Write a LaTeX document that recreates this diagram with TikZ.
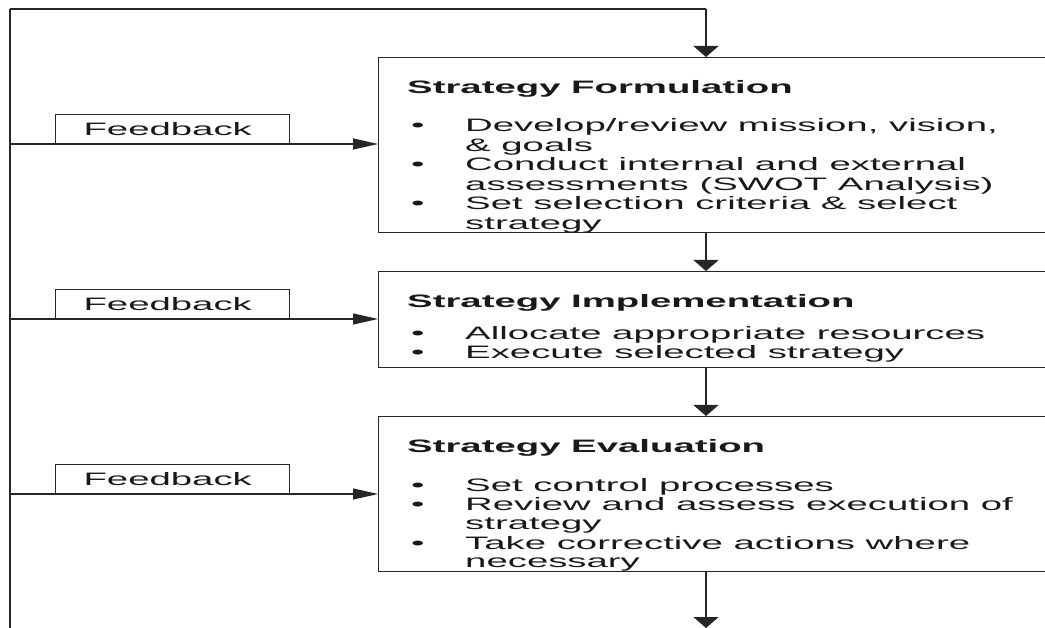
\documentclass[tikz,border=0pt]{standalone}
\usepackage{fontspec}
\setmainfont{Liberation Sans}[FakeStretch=2.13]
\usetikzlibrary{arrows.meta}
\begin{document}
\begin{tikzpicture}[x=1pt,y=-1pt,
  mainbox/.style={draw=black!85, line width=1.3pt, anchor=north west, inner sep=0pt, minimum width=720pt},
  fbbox/.style={draw=black!85, line width=1.1pt, anchor=south west, inner xsep=28pt, inner ysep=0pt,
    text width=178pt, align=left, minimum height=29pt, font=\fontsize{18}{19.5}\selectfont, text=black!90},
  txt/.style={anchor=base west, inner sep=0pt, font=\fontsize{18}{19.5}\selectfont, text=black!90},
  ttl/.style={anchor=base west, inner sep=0pt, font=\fontsize{18}{19.5}\selectfont\bfseries, text=black!90},
  vline/.style={draw=black!85, line width=2pt},
  hline/.style={draw=black!85, line width=1.1pt},
  varrow/.style={vline, -{Triangle[length=11pt,width=25pt]}},
  harrow/.style={hline, -{Triangle[length=25pt,width=11pt]}},
]
\clip (0,0) rectangle (1045,628);

% main boxes
\node[mainbox, minimum height=175pt] (b1) at (378,57) {};
\node[mainbox, minimum height=96pt] (b2) at (378,271) {};
\node[mainbox, minimum height=155pt] (b3) at (378,416) {};

% feedback boxes
\node[fbbox] (f1) at (55,144) {Feedback};
\node[fbbox] (f2) at (55,319) {Feedback};
\node[fbbox] (f3) at (55,494) {Feedback};

% coordinates
\coordinate (lt) at (10,9);
\coordinate (lb) at (10,632);
\coordinate (tm) at (706,9);
\coordinate (bm) at (706,628);
\coordinate (l1) at (10,144);
\coordinate (l2) at (10,319);
\coordinate (l3) at (10,494);

% connectors
\draw[vline] (lb) -- (lt);
\draw[hline] (lt) -- (tm);
\draw[varrow] (tm) -- (tm |- b1.north);
\draw[varrow] (b1.south -| tm) -- (b2.north -| tm);
\draw[varrow] (b2.south -| tm) -- (b3.north -| tm);
\draw[varrow] (b3.south -| tm) -- (bm);
\draw[harrow] (l1) -- (l1 -| b1.west);
\draw[harrow] (l2) -- (l2 -| b2.west);
\draw[harrow] (l3) -- (l3 -| b3.west);

% box 1 text
\node[ttl] (t1) at (407,94) {Strategy Formulation};
\node[txt] (d1a) at (411,132) {\textbullet};
\node[txt] (s1a) at (465,132) {Develop/review mission, vision,};
\node[txt] (s1b) at (465,151.5) {\& goals};
\node[txt] (d1c) at (411,171) {\textbullet};
\node[txt] (s1c) at (465,171) {Conduct internal and external};
\node[txt] (s1d) at (465,190.5) {assessments (SWOT Analysis)};
\node[txt] (d1e) at (411,210) {\textbullet};
\node[txt] (s1e) at (465,210) {Set selection criteria \& select};
\node[txt] (s1f) at (465,229.5) {strategy};

% box 2 text
\node[ttl] (t2) at (407,308) {Strategy Implementation};
\node[txt] (d2a) at (411,340) {\textbullet};
\node[txt] (s2a) at (465,340) {Allocate appropriate resources};
\node[txt] (d2b) at (411,359) {\textbullet};
\node[txt] (s2b) at (465,359) {Execute selected strategy};

% box 3 text
\node[ttl] (t3) at (407,453) {Strategy Evaluation};
\node[txt] (d3a) at (411,491) {\textbullet};
\node[txt] (s3a) at (465,491) {Set control processes};
\node[txt] (d3b) at (411,510) {\textbullet};
\node[txt] (s3b) at (465,510) {Review and assess execution of};
\node[txt] (s3c) at (465,529) {strategy};
\node[txt] (d3d) at (411,549) {\textbullet};
\node[txt] (s3d) at (465,549) {Take corrective actions where};
\node[txt] (s3e) at (465,567.5) {necessary};
\end{tikzpicture}
\end{document}
